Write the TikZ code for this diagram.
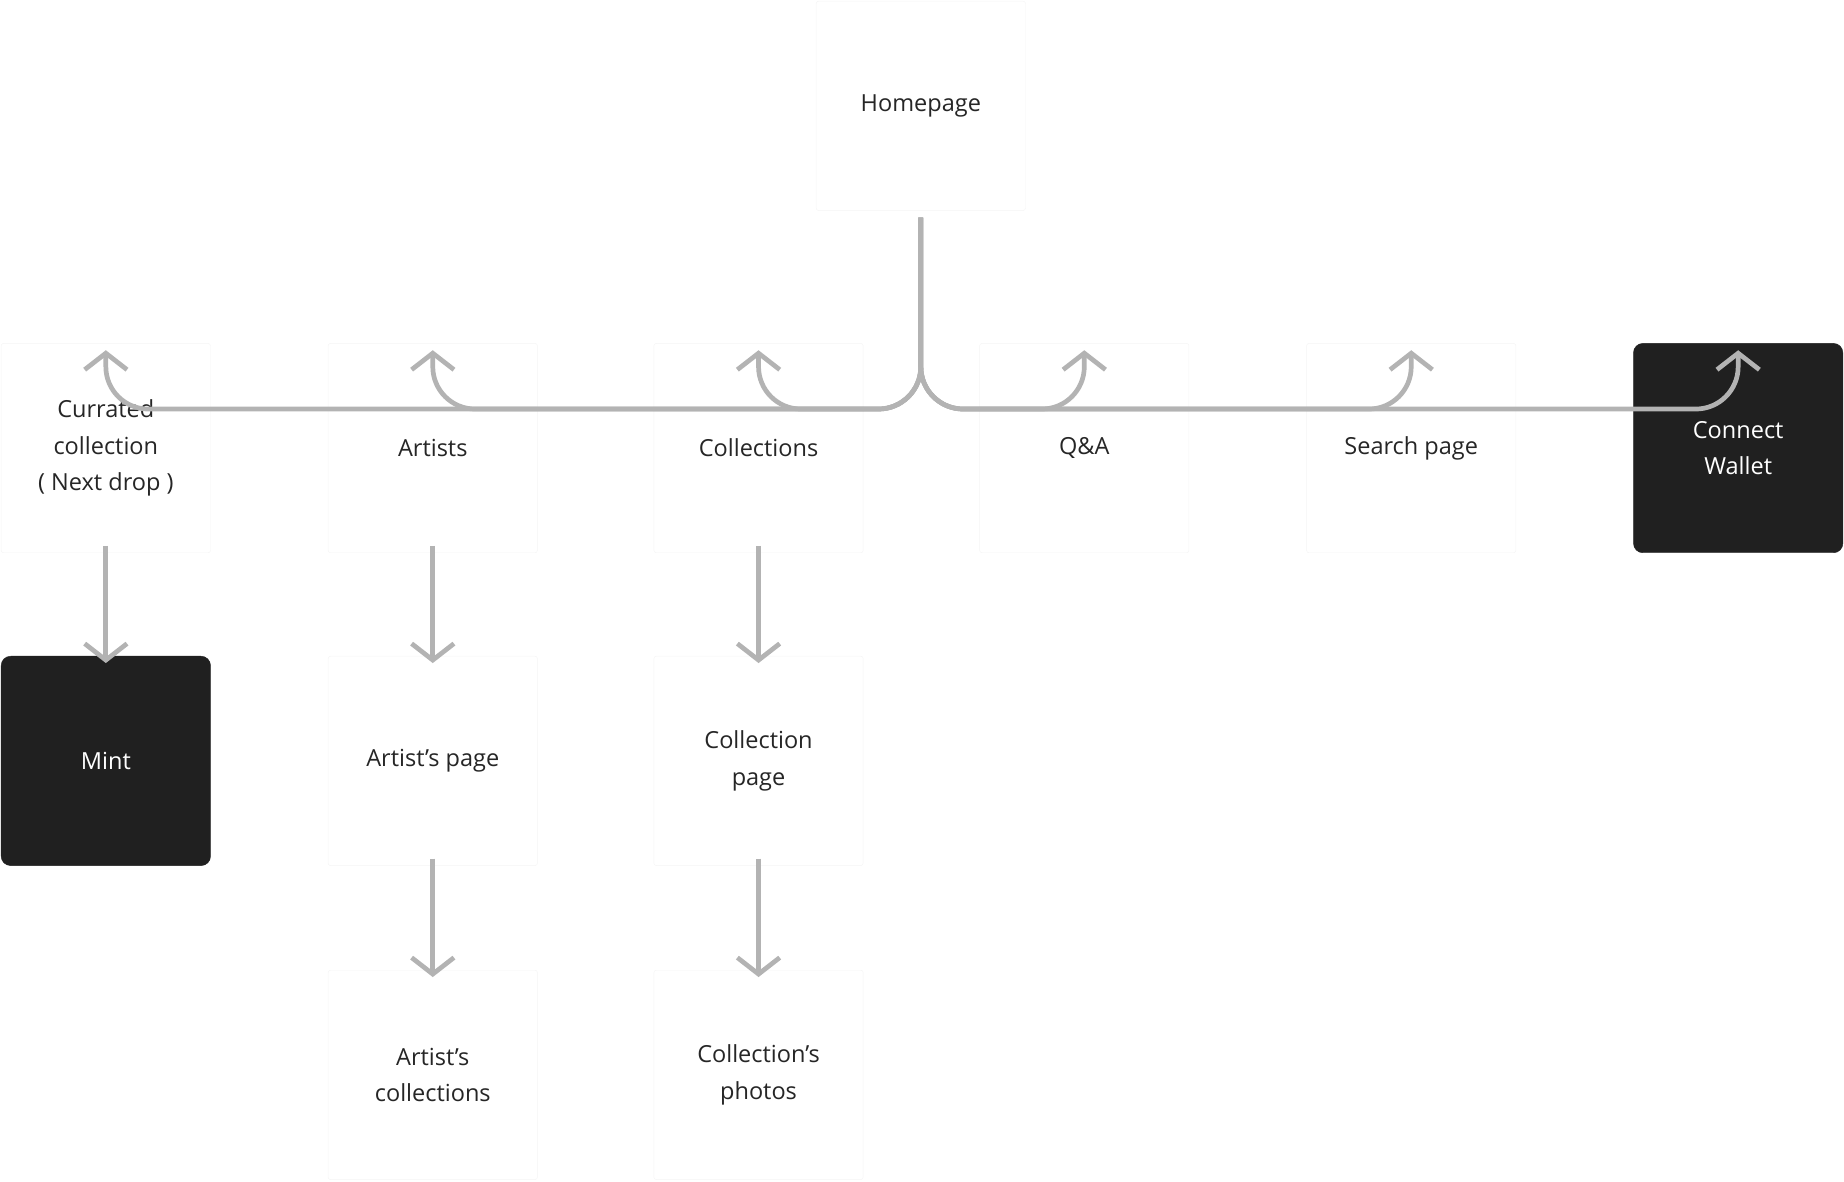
\documentclass[tikz,border=0pt]{standalone}
\usepackage{fontspec}
\setmainfont{Open Sans}
\usetikzlibrary{arrows.meta}
\definecolor{arr}{HTML}{B3B3B3}
\definecolor{dark}{HTML}{202020}
\begin{document}
\begin{tikzpicture}[x=1pt,y=-1pt,
 box/.style={draw=black!4,fill=white,minimum width=178pt,minimum height=178pt,align=center,font=\fontsize{20}{31}\selectfont,text=black!85,inner sep=0pt,rounded corners=2pt},
 dbox/.style={box,fill=dark,draw=dark,text=white,rounded corners=8pt},
 ar/.style={draw=arr,line width=4pt,-{Straight Barb[length=14pt,width=36pt]}}]
\useasboundingbox (0,0) rectangle (1568,1005);
\node[box] (home) at (783,90) {Homepage};
\node[box] (c1) at (90,381) {Currated\\collection\\( Next drop )};
\node[box] (c2) at (368,381) {Artists};
\node[box] (c3) at (645,381) {Collections};
\node[box] (c4) at (922,381) {Q\&A};
\node[box] (c5) at (1200,381) {Search page};
\node[dbox] (c6) at (1478,381) {Connect\\Wallet};
\node[dbox] (m) at (90,647) {Mint};
\node[box] (ap) at (368,647) {Artist’s page};
\node[box] (cp) at (645,647) {Collection\\page};
\node[box] (ac) at (368,914) {Artist’s\\collections};
\node[box] (cph) at (645,914) {Collection’s\\photos};
\coordinate (s) at (783,185);
\foreach \c in {c1,c2,c3,c4,c5,c6}{
  \draw[ar,rounded corners=36pt] (s) |- ([yshift=-56pt]\c.north) -- ([yshift=-6pt]\c.north);
}
\foreach \a/\b in {c1/m,c2/ap,c3/cp,ap/ac,cp/cph}{
  \draw[ar] ([yshift=6pt]\a.south) -- ([yshift=-6pt]\b.north);
}
\end{tikzpicture}
\end{document}
